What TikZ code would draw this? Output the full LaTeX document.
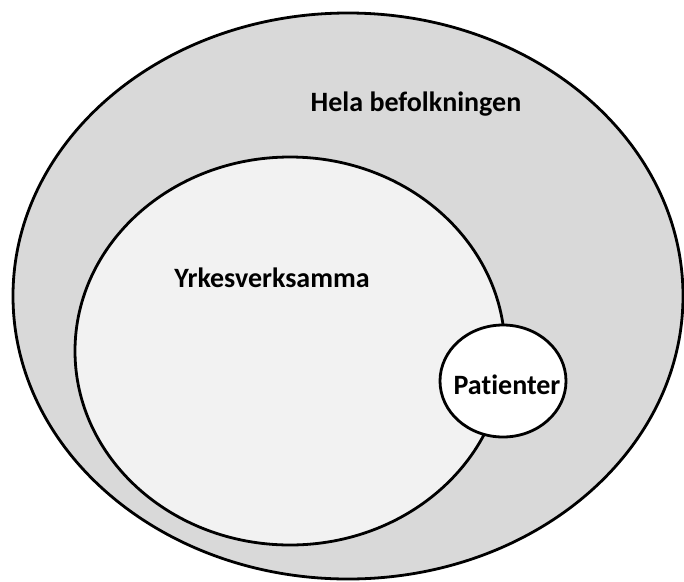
\documentclass[tikz,border=0pt]{standalone}
\usepackage{fontspec}
\setmainfont[Ligatures=NoCommon]{Carlito}
\begin{document}
\begin{tikzpicture}[x=1pt,y=-1pt,line width=2.8pt,
  lbl/.style={font=\bfseries\fontsize{28}{32}\selectfont}]
\useasboundingbox (0,0) rectangle (684,581);

\draw[fill=black!15] (348,296) ellipse [x radius=335, y radius=283];
\node[lbl] (hela) at (416,104) {Hela befolkningen};

\draw[fill=black!5] (290,351) ellipse [x radius=215, y radius=194];
\node[lbl] (yrke) at (272,278) {Yrkesverksamma};

\draw[fill=white] (503,381) ellipse [x radius=63, y radius=56];
\node[lbl] (pat) at (507,385) {Patienter};
\end{tikzpicture}
\end{document}
